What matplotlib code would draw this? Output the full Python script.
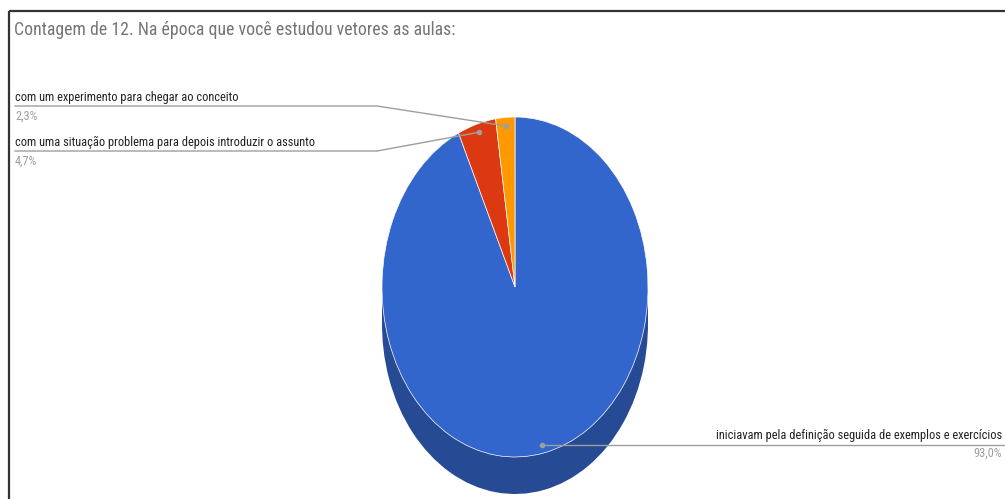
import numpy as np
import matplotlib.pyplot as plt
from matplotlib.patches import Rectangle

plt.rcParams['font.family'] = ['Roboto Condensed', 'DejaVu Sans']
plt.rcParams['font.stretch'] = 'condensed'

# dados (contagem de respostas)
titulo = 'Contagem de 12. Na época que você estudou vetores as aulas:'
categorias = ['iniciavam pela definição seguida de exemplos e exercícios',
              'com uma situação problema para depois introduzir o assunto',
              'com um experimento para chegar ao conceito']
contagens = [40, 2, 1]
cores = ['#3366cc', '#dc3912', '#ff9900']
cores_lado = ['#264b94', '#a42a0d', '#bf7200']

W, H = 1005, 499
fig = plt.figure(figsize=(W / 100, H / 100), dpi=100)
renderer = fig.canvas.get_renderer()


def ajusta_largura(txt, largura):
    """reduz/aumenta o tamanho da fonte para ocupar a largura desejada (px)"""
    w = txt.get_window_extent(renderer).width
    txt.set_fontsize(txt.get_fontsize() * largura / w)


# eixo do "pie 3D" : elipse rx=133, ry=170, profundidade 37 px
cx, cy, rx, ry, prof = 515, 287, 133, 170, 37
d = prof / ry
ax = fig.add_axes([(cx - rx) / W, (H - (cy + ry + prof)) / H,
                   2 * rx / W, (2 * ry + prof) / H])

# lateral (parte de baixo)
ax.add_patch(Rectangle((-1, -d), 2, d, color=cores_lado[0], lw=0))
ax.pie(contagens, colors=cores_lado, startangle=90, counterclock=False,
       center=(0, -d), wedgeprops=dict(linewidth=0))
# face de cima
ax.pie(contagens, colors=cores, startangle=90, counterclock=False,
       wedgeprops=dict(linewidth=0.5, edgecolor='white'))
ax.set_aspect('auto')
ax.set_xlim(-1, 1)
ax.set_ylim(-1 - d, 1)
ax.axis('off')

# eixo sobreposto em pixels
over = fig.add_axes([0, 0, 1, 1], zorder=3)
over.set_xlim(0, W)
over.set_ylim(H, 0)
over.axis('off')

# moldura
over.plot([8.5, 8.5], [H, 10.5], color='#333333', lw=1.6, solid_capstyle='butt')
over.plot([8.5, W], [10.5, 10.5], color='#333333', lw=1.6, solid_capstyle='butt')

t = over.text(14, 35, titulo, fontsize=13, color='#757575', va='baseline')
ajusta_largura(t, 438)

# pontos das linhas-guia no meio de cada fatia
frac = np.array(contagens) / sum(contagens)
fim = 90 - 360 * np.cumsum(frac)
ini = fim + 360 * frac
meio = np.deg2rad((ini + fim) / 2)
pts = np.c_[0.95 * np.cos(meio), 0.95 * np.sin(meio)]
pts = over.transData.inverted().transform(ax.transData.transform(pts))

pct = [f'{100 * f:.1f}%'.replace('.', ',') for f in frac]
cor_linha = '#9e9e9e'
cor_txt = '#222222'
cor_pct = '#9e9e9e'

# tamanho dos rótulos a partir da largura do rótulo mais longo (300 px)
tmp = over.text(0, 0, categorias[1], fontsize=10)
ajusta_largura(tmp, 300)
fs = tmp.get_fontsize()
tmp.remove()

# fatias pequenas: rótulos à esquerda
for i, ylin in [(2, 106), (1, 151)]:
    xa, ya = pts[i]
    over.plot([xa, 377, 15], [ya, ylin, ylin], color=cor_linha, lw=1)
    over.plot(xa, ya, 'o', ms=3, color=cor_linha)
    over.text(15, ylin - 5, categorias[i], fontsize=fs, color=cor_txt, va='baseline')
    over.text(15, ylin + 14, pct[i], fontsize=fs, color=cor_pct, va='baseline')

# fatia maior: rótulo à direita
x0, y0 = pts[0]
over.plot([x0, W + 5], [y0, y0], color=cor_linha, lw=1)
over.plot(x0, y0, 'o', ms=3, color=cor_linha)
over.text(1002, y0 - 6, categorias[0], fontsize=fs, color=cor_txt,
          va='baseline', ha='right')
over.text(1002, y0 + 12, pct[0], fontsize=fs, color=cor_pct,
          va='baseline', ha='right')

fig.savefig('out.png', dpi=100)
